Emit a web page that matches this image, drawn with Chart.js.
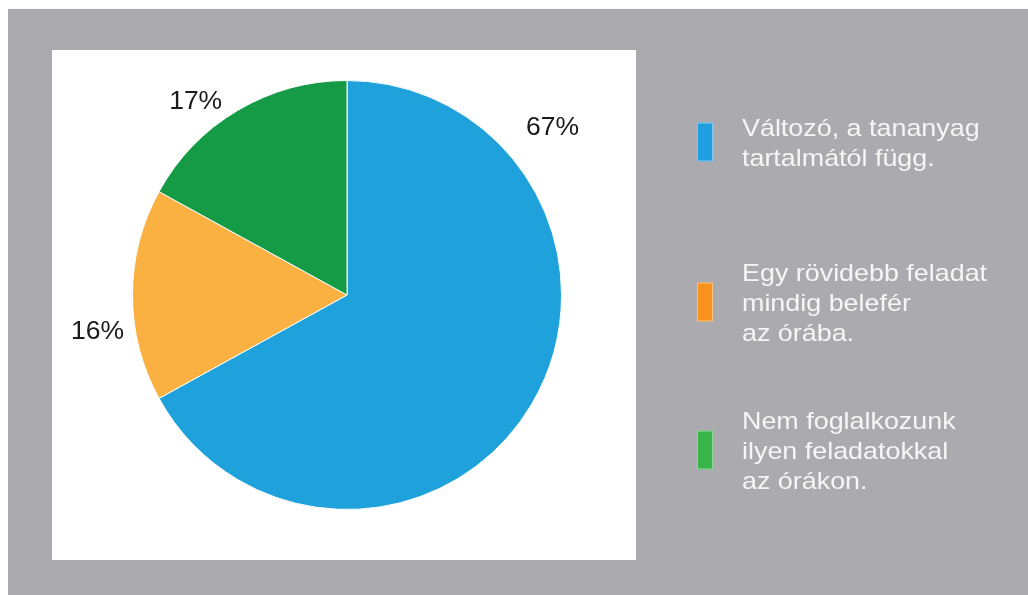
<!DOCTYPE html>
<html>
<head>
<meta charset="utf-8">
<script src="https://cdn.jsdelivr.net/npm/chart.js@4"></script>
<style>
html,body{margin:0;padding:0;background:#fff;}
#wrap{position:relative;width:1028px;height:595px;}
canvas{display:block;}
</style>
</head>
<body>
<div id="wrap"><canvas id="c" width="1028" height="595"></canvas></div>
<script>
const categories = [
  "Változó, a tananyag tartalmától függ.",
  "Egy rövidebb feladat mindig belefér az órába.",
  "Nem foglalkozunk ilyen feladatokkal az órákon."
];
const legendLines = [
  ["Változó, a tananyag", "tartalmától függ."],
  ["Egy rövidebb feladat", "mindig belefér", "az órába."],
  ["Nem foglalkozunk", "ilyen feladatokkal", "az órákon."]
];
const values = [67, 16, 17];
const valueLabels = ["67%", "16%", "17%"];

const sliceColors = ["#1fa2dc", "#fbb042", "#159a45"];
const legendColors = ["#1f9fe0", "#f7931e", "#3ab54a"];
// label placement style: angle (deg, canvas coords) and distance factor vs radius
const labelStyle = [
  {ang: -39.2, f: 1.237},
  {ang: 171.8, f: 1.175},
  {ang: -128.0, f: 1.146}
];

const backdrop = {
  id: 'backdrop',
  beforeDraw(chart) {
    const ctx = chart.ctx;
    ctx.save();
    ctx.fillStyle = '#ffffff';
    ctx.fillRect(0, 0, 1028, 595);
    ctx.fillStyle = '#abaaaf';
    ctx.fillRect(8, 9, 1020, 586);
    ctx.fillStyle = '#ffffff';
    ctx.fillRect(52, 50, 584, 510);
    ctx.restore();
  }
};

const labelsAndLegend = {
  id: 'labelsAndLegend',
  afterDraw(chart) {
    const ctx = chart.ctx;
    const meta = chart.getDatasetMeta(0);
    ctx.save();
    ctx.fillStyle = '#1a1a1a';
    ctx.textAlign = 'center';
    ctx.textBaseline = 'middle';
    ctx.font = '25px "Liberation Sans", Arial, sans-serif';
    meta.data.forEach((arc, i) => {
      const r = arc.outerRadius * labelStyle[i].f;
      const a = labelStyle[i].ang * Math.PI / 180;
      const x = arc.x + r * Math.cos(a);
      const y = arc.y + r * Math.sin(a);
      ctx.save();
      ctx.translate(x, y);
      ctx.scale(1.06, 1);
      ctx.fillText(valueLabels[i], 0, 1);
      ctx.restore();
    });
    // legend
    const boxX = 697, boxW = 16, boxH = 39;
    const textX = 742, lineH = 30;
    const centers = [142, 302, 450];
    ctx.font = '24px "Liberation Sans", Arial, sans-serif';
    ctx.textAlign = 'left';
    ctx.textBaseline = 'alphabetic';
    legendLines.forEach((lines, i) => {
      const cy = centers[i];
      ctx.fillStyle = legendColors[i];
      ctx.fillRect(boxX, cy - boxH / 2, boxW, boxH);
      ctx.strokeStyle = 'rgba(255,255,255,0.45)';
      ctx.lineWidth = 1;
      ctx.strokeRect(boxX + 0.5, cy - boxH / 2 + 0.5, boxW - 1, boxH - 1);
      ctx.fillStyle = '#f6f6f6';
      const n = lines.length;
      const firstBase = cy - (n - 1) * lineH / 2 + 9;
      lines.forEach((t, j) => {
        ctx.save();
        ctx.translate(textX, firstBase + j * lineH);
        ctx.scale(1.12, 1);
        ctx.fillText(t, 0, 0);
        ctx.restore();
      });
    });
    ctx.restore();
  }
};

new Chart(document.getElementById('c'), {
  type: 'pie',
  data: {
    labels: categories,
    datasets: [{
      data: values,
      backgroundColor: sliceColors,
      borderColor: '#ffffff',
      borderWidth: 1
    }]
  },
  options: {
    responsive: false,
    animation: false,
    layout: { padding: { left: 132, right: 466, top: 80, bottom: 85 } },
    plugins: {
      legend: { display: false },
      tooltip: { enabled: false }
    }
  },
  plugins: [backdrop, labelsAndLegend]
});
</script>
</body>
</html>
